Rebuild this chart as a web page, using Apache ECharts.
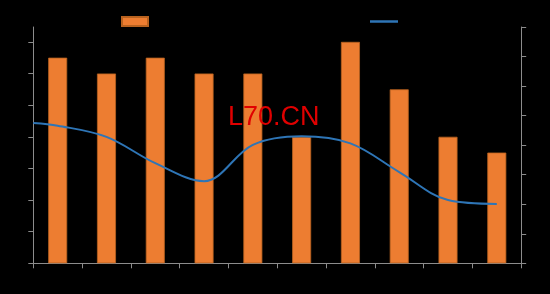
<!DOCTYPE html>
<html>
<head>
<meta charset="utf-8">
<script src="https://cdn.jsdelivr.net/npm/echarts@6/dist/echarts.min.js"></script>
<style>html,body{margin:0;padding:0;background:#000;}#c{width:550px;height:294px;}</style>
</head>
<body>
<div id="c"></div>
<script>
const categories = ['1月','2月','3月','4月','5月','6月','7月','8月','9月','10月'];
const barValues = [6.5, 6, 6.5, 6, 6, 4, 7, 5.5, 4, 3.5];
const lineX = [0, 0.5, 1.5, 2.5, 3.5, 4.5, 5.5, 6.5, 7.5, 8.5, 9.5];
const lineValues = [4.75, 4.66, 4.28, 3.39, 2.78, 4.01, 4.30, 4.06, 3.09, 2.14, 2.01];
const leftTicks = [0, 1, 2, 3, 4, 5, 6, 7];
const barName = '销量';
const lineName = '增长率';

const axisColor = '#8c8c8c';
const chart = echarts.init(document.getElementById('c'));
chart.setOption({
  backgroundColor: '#000',
  animation: false,
  legend: [
    {data: [{name: barName, icon: 'rect'}], left: 121, top: 16, padding: 0, itemWidth: 26, itemHeight: 9,
     textStyle: {color: '#000', fontSize: 11}},
    {data: [{name: lineName, icon: 'rect'}], left: 370, top: 16, padding: 0, itemWidth: 28, itemHeight: 2.5,
     textStyle: {color: '#000', fontSize: 11}}
  ],
  grid: {left: 33.3, right: 28.8, top: 27, bottom: 30.7},
  xAxis: [
    {type: 'category', data: categories,
     axisLine: {lineStyle: {color: axisColor, width: 1}},
     axisTick: {show: true, length: 5, lineStyle: {color: axisColor}},
     axisLabel: {color: '#000'}},
    {type: 'value', min: 0, max: categories.length, show: false, splitLine: {show: false}}
  ],
  yAxis: [
    {type: 'value', min: 0, max: 7.47, interval: 1,
     axisLine: {show: true, lineStyle: {color: axisColor}},
     axisTick: {show: true, length: 5, customValues: leftTicks, lineStyle: {color: axisColor}},
     axisLabel: {color: '#000', customValues: leftTicks},
     splitLine: {show: false}},
    {type: 'value', min: 0, max: 8, interval: 1, position: 'right',
     axisLine: {show: true, lineStyle: {color: axisColor}},
     axisTick: {show: true, length: 5, lineStyle: {color: axisColor}},
     axisLabel: {color: '#000'},
     splitLine: {show: false}}
  ],
  series: [
    {name: barName, type: 'bar', xAxisIndex: 0, yAxisIndex: 0, data: barValues,
     barWidth: 19,
     itemStyle: {color: '#ED7D31', borderColor: '#b8621f', borderWidth: 0.8}},
    {name: lineName, type: 'line', xAxisIndex: 1, yAxisIndex: 1,
     data: lineX.map((x, i) => [x, lineValues[i]]),
     smooth: 0.35, symbol: 'none',
     lineStyle: {color: '#2E75B6', width: 2},
     itemStyle: {color: '#2E75B6'}}
  ],
  graphic: [
    {type: 'text', left: 228, top: 104, z: 100,
     style: {text: 'L70.CN', fill: '#e00000', fontSize: 27, fontFamily: 'Liberation Sans, Arial, sans-serif'}}
  ]
});
</script>
</body>
</html>
